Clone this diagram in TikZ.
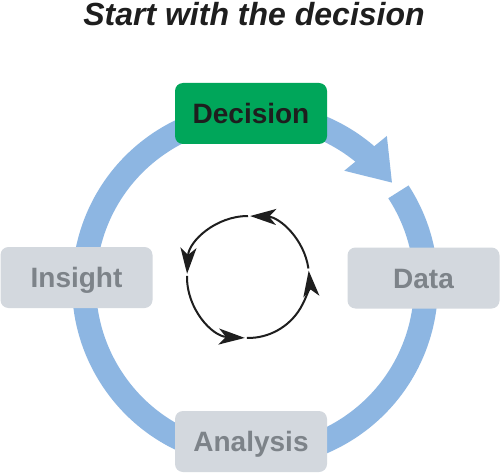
\documentclass[tikz,border=0pt]{standalone}
\usepackage{fontspec}
\setmainfont{Liberation Sans}
\usetikzlibrary{arrows.meta,calc}
\definecolor{ringblue}{RGB}{141,182,226}
\definecolor{decgreen}{RGB}{0,166,90}
\definecolor{boxgray}{RGB}{211,216,222}
\definecolor{txtgray}{RGB}{125,131,137}
\definecolor{inkblack}{RGB}{30,30,30}
\tikzset{
  headtip/.tip={Stealth[length=26pt,width=16pt,inset=7pt]},
}
\begin{document}
\begin{tikzpicture}[x=1pt,y=1pt,
  stagebox/.style={rounded corners=8pt, minimum width=152pt, minimum height=61pt,
    inner sep=0pt, text height=20pt, text depth=0pt,
    font=\fontsize{28}{30}\selectfont\bfseries},
  graystage/.style={stagebox, fill=boxgray, text=txtgray},
  greenstage/.style={stagebox, fill=decgreen, text=inkblack},
  cycarrow/.style={line width=2pt, draw=inkblack, -headtip}]
\useasboundingbox (0,0) rectangle (500,-473);
\fill[white] (0,0) rectangle (500,-473);
\node[font=\fontsize{32}{34}\selectfont\bfseries\itshape, text=inkblack, anchor=base] (title) at (254,-25.5) {Start with the decision};
% big ring
\coordinate (ring) at (255,-285);
\draw[ringblue, line width=24pt] ($(ring)+(33:171)$) arc[start angle=33, end angle=-311, radius=171];
\fill[ringblue] ($(ring)+(48.5:199)$) -- ($(ring)+(52:145)$) -- ($(ring)+(36.8:171)$) -- cycle;
% boxes
\node[greenstage] (decision) at (251,-113.5) {Decision};
\node[graystage] (data) at (423.5,-278) {Data};
\node[graystage] (analysis) at (251,-441.5) {Analysis};
\node[graystage] (insight) at (76.5,-277.5) {Insight};
% small cycle
\coordinate (cyc) at (248,-277);
\draw[cycarrow] ($(cyc)+(-91:61)$) arc[start angle=-91, end angle=6, radius=61];
\draw[cycarrow] ($(cyc)+(8:61)$) arc[start angle=8, end angle=88, radius=61];
\draw[cycarrow] ($(cyc)+(90:61)$) arc[start angle=90, end angle=177, radius=61];
\draw[cycarrow] ($(cyc)+(179:61)$) arc[start angle=179, end angle=267, radius=61];
\end{tikzpicture}
\end{document}
